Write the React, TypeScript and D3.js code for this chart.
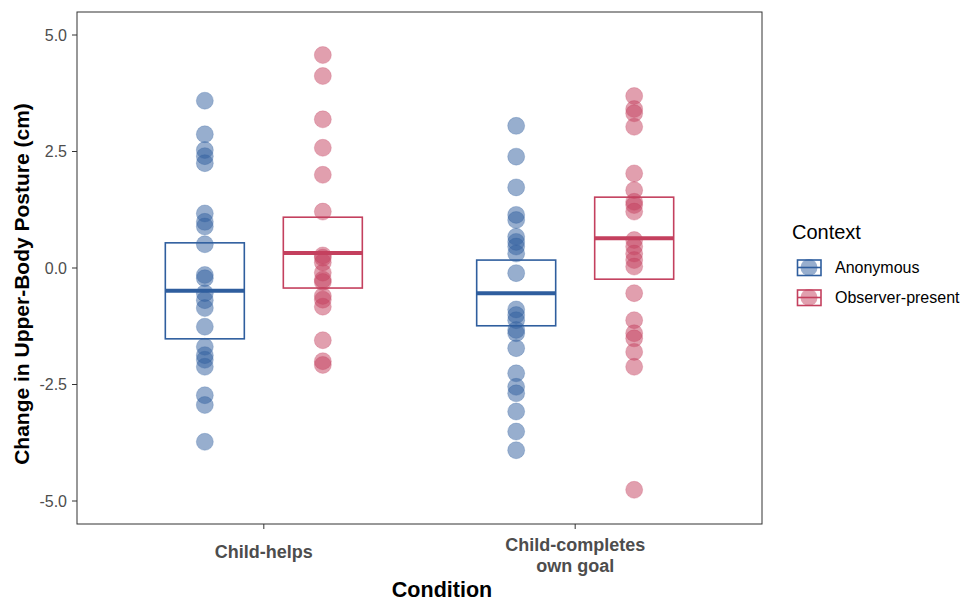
import React, { useEffect, useRef } from 'react';
import * as d3 from 'd3';

const conditions = ['Child-helps', 'Child-completes own goal'];
const contexts = ['Anonymous', 'Observer-present'];
const contextColors = ['#2F5E9E', '#C4405E'];

// raw observations per condition x context
const helpsAnon = [3.59, 2.87, 2.53, 2.4, 2.25, 1.17, 0.99, 0.89, 0.51, -0.15, -0.22, -0.54, -0.69, -0.86, -1.26, -1.69, -1.87, -1.97, -2.12, -2.73, -2.94, -3.73];
const helpsObs = [4.57, 4.12, 3.19, 2.58, 2.0, 1.21, 0.27, 0.22, 0.12, -0.1, -0.25, -0.3, -0.6, -0.68, -0.83, -1.55, -2.0, -2.08];
const completesAnon = [3.05, 2.39, 1.73, 1.14, 1.03, 0.67, 0.56, 0.46, 0.31, -0.11, -0.89, -1.01, -1.12, -1.33, -1.4, -1.72, -2.26, -2.55, -2.69, -3.08, -3.51, -3.91];
const completesObs = [3.69, 3.41, 3.32, 3.03, 2.03, 1.67, 1.42, 1.35, 1.21, 0.6, 0.46, 0.31, 0.17, 0.03, -0.54, -1.12, -1.4, -1.51, -1.8, -2.12, -4.76];

// crossbar summaries: [lower, middle, upper]
const helpsAnonBox = [-1.52, -0.49, 0.54];
const helpsObsBox = [-0.43, 0.32, 1.09];
const completesAnonBox = [-1.24, -0.54, 0.17];
const completesObsBox = [-0.24, 0.64, 1.52];

const yTicks = [-5, -2.5, 0, 2.5, 5];

const App: React.FC = () => {
  const svgRef = useRef<SVGSVGElement>(null);

  useEffect(() => {
    if (!svgRef.current) return;
    const svg = d3.select(svgRef.current);
    svg.selectAll('*').remove();

    const font = '"Liberation Sans", Arial, Helvetica, sans-serif';
    const left = 77, right = 762, top = 12, bottom = 524;

    const x = d3.scalePoint<string>().domain(conditions).range([left, right]).padding(0.6);
    const dodge = d3.scalePoint<string>().domain(contexts).range([-59, 59]);
    const y = d3.scaleLinear().domain([-5, 5]).range([501, 35]);
    const boxHalf = 39.5;

    const groups = [
      { cond: conditions[0], ctx: 0, pts: helpsAnon, box: helpsAnonBox },
      { cond: conditions[0], ctx: 1, pts: helpsObs, box: helpsObsBox },
      { cond: conditions[1], ctx: 0, pts: completesAnon, box: completesAnonBox },
      { cond: conditions[1], ctx: 1, pts: completesObs, box: completesObsBox },
    ];

    // panel
    svg.append('rect')
      .attr('x', left).attr('y', top)
      .attr('width', right - left).attr('height', bottom - top)
      .attr('fill', 'white').attr('stroke', '#333333').attr('stroke-width', 1);

    groups.forEach(g => {
      const cx = (x(g.cond) as number) + (dodge(contexts[g.ctx]) as number);
      const col = contextColors[g.ctx];

      svg.append('g').selectAll('circle')
        .data(g.pts)
        .enter().append('circle')
        .attr('cx', cx)
        .attr('cy', d => y(d))
        .attr('r', 8.5)
        .attr('fill', col)
        .attr('fill-opacity', 0.5)
        .attr('stroke', col)
        .attr('stroke-opacity', 0.25);

      svg.append('rect')
        .attr('x', cx - boxHalf).attr('y', y(g.box[2]))
        .attr('width', boxHalf * 2).attr('height', y(g.box[0]) - y(g.box[2]))
        .attr('fill', 'none').attr('stroke', col).attr('stroke-width', 1.6);

      svg.append('line')
        .attr('x1', cx - boxHalf).attr('x2', cx + boxHalf)
        .attr('y1', y(g.box[1])).attr('y2', y(g.box[1]))
        .attr('stroke', col).attr('stroke-width', 4);
    });

    // y axis
    const ya = svg.append('g');
    yTicks.forEach(t => {
      ya.append('line')
        .attr('x1', left - 5).attr('x2', left)
        .attr('y1', y(t)).attr('y2', y(t))
        .attr('stroke', '#333333');
      ya.append('text')
        .attr('x', left - 10).attr('y', y(t))
        .attr('dy', '0.36em')
        .attr('text-anchor', 'end')
        .attr('font-family', font).attr('font-size', 16)
        .attr('fill', '#4D4D4D')
        .text(t.toFixed(1));
    });

    // x axis
    const xa = svg.append('g');
    conditions.forEach(c => {
      const px = x(c) as number;
      xa.append('line')
        .attr('x1', px).attr('x2', px)
        .attr('y1', bottom).attr('y2', bottom + 5)
        .attr('stroke', '#333333');
      const lines = c === 'Child-completes own goal' ? ['Child-completes', 'own goal'] : [c];
      const t = xa.append('text')
        .attr('text-anchor', 'middle')
        .attr('font-family', font).attr('font-size', 18).attr('font-weight', 'bold')
        .attr('fill', '#4D4D4D');
      lines.forEach((l, i) => {
        t.append('tspan').attr('x', px)
          .attr('y', (lines.length > 1 ? 551 : 558) + i * 21)
          .text(l);
      });
    });

    svg.append('text')
      .attr('x', 442).attr('y', 597)
      .attr('text-anchor', 'middle')
      .attr('font-family', font).attr('font-size', 21.5).attr('font-weight', 'bold')
      .attr('fill', 'black')
      .text('Condition');

    svg.append('text')
      .attr('transform', 'translate(29,284) rotate(-90)')
      .attr('text-anchor', 'middle')
      .attr('font-family', font).attr('font-size', 21).attr('font-weight', 'bold')
      .attr('fill', 'black')
      .text('Change in Upper-Body Posture (cm)');

    // legend
    const lg = svg.append('g');
    lg.append('text')
      .attr('x', 792).attr('y', 239)
      .attr('font-family', font).attr('font-size', 20)
      .attr('fill', 'black')
      .text('Context');
    contexts.forEach((c, i) => {
      const ky = 259 + i * 30;
      const col = contextColors[i];
      lg.append('circle')
        .attr('cx', 809).attr('cy', ky + 8.5).attr('r', 8.5)
        .attr('fill', col).attr('fill-opacity', 0.5);
      lg.append('rect')
        .attr('x', 797.5).attr('y', ky + 1)
        .attr('width', 23.5).attr('height', 15.5)
        .attr('fill', 'none').attr('stroke', col).attr('stroke-width', 1.6);
      lg.append('line')
        .attr('x1', 797.5).attr('x2', 821)
        .attr('y1', ky + 8.5).attr('y2', ky + 8.5)
        .attr('stroke', col).attr('stroke-width', 1.6);
      lg.append('text')
        .attr('x', 835).attr('y', ky + 8.5)
        .attr('dy', '0.36em')
        .attr('font-family', font).attr('font-size', 16)
        .attr('fill', 'black')
        .text(c);
    });
  }, []);

  return (
    <svg ref={svgRef} width={963} height={602}
      style={{ position: 'absolute', left: 0, top: 0, background: 'white' }} />
  );
};

export default App;
